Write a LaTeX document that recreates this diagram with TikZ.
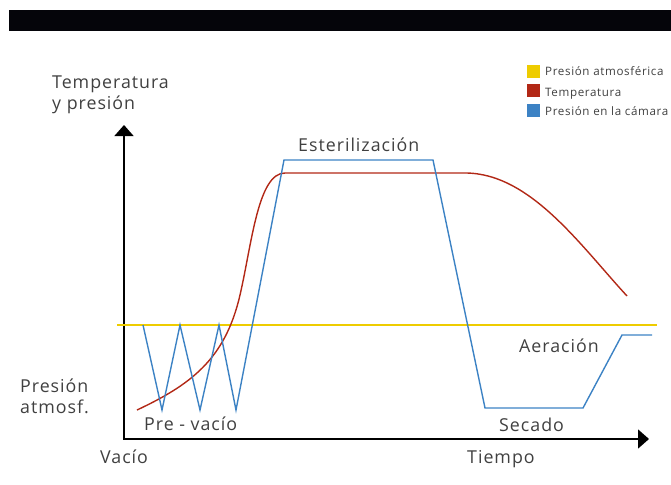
\documentclass[tikz,border=0pt]{standalone}
\usepackage{fontspec}
\setmainfont{Open Sans}[LetterSpace=5.5]
\usetikzlibrary{arrows.meta}

\definecolor{atmyellow}{RGB}{238,204,0}
\definecolor{tempred}{RGB}{178,40,22}
\definecolor{chamberblue}{RGB}{60,130,196}
\definecolor{labelgray}{RGB}{64,64,64}
\definecolor{barblack}{RGB}{5,5,10}

\tikzset{
  lbl/.style={text=labelgray, font=\fontsize{17.8}{20}\selectfont, inner sep=0pt, anchor=base west},
  leglbl/.style={text=labelgray, font=\fontsize{11.6}{13}\selectfont, inner sep=0pt, anchor=base west},
  legbox/.style={minimum size=13pt, inner sep=0pt, anchor=north west},
  curve/.style={line width=1.4pt},
}

\begin{document}
\begin{tikzpicture}[x=1pt,y=-1pt]
        \useasboundingbox (0,0) rectangle (671,484);

        % Header bar
        \fill[barblack] (9,10) rectangle (671,31);

        % Axes
        \coordinate (ytip) at (124,125);
        \coordinate (origin) at (124,439);
        \coordinate (xtip) at (649,439);
        \draw[line width=1.5pt, {Triangle[width=19pt,length=11pt]}-{Triangle[width=19pt,length=11pt]}] (ytip) -- (origin) -- (xtip);

        % Atmospheric pressure line
        \draw[atmyellow, line width=2pt] (117,325) -- (657,325);

        % Temperature curve
        \draw[tempred, curve] (137,410) .. controls (190,385) and (225,360) .. (240,295)
            .. controls (252,243) and (258,173) .. (285,173) -- (465,173)
            .. controls (530,173) and (580,245) .. (627,296);

        % Chamber pressure
        \draw[chamberblue, curve, line join=miter] (143,325) -- (162,410) -- (180,325) -- (200,410)
            -- (219,325) -- (236,410) -- (284,160) -- (433,160) -- (485,408)
            -- (583,408) -- (622,335) -- (652,335);

        % Axis labels
        \node[lbl] (ylabel) at (52,89) {Temperatura};
        \node[lbl] (ylabelb) at (52,110) {y presión};
        \node[lbl] (atm) at (20,392) {Presión};
        \node[lbl] (atmb) at (20,413) {atmosf.};
        \node[lbl] (vacio) at (100,463) {Vacío};
        \node[lbl] (tiempo) at (467,463) {Tiempo};

        % Phase labels
        \node[lbl] (prevacio) at (144,430) {Pre - vacío};
        \node[lbl] (esteril) at (298,151) {Esterilización};
        \node[lbl] (aeracion) at (519,352) {Aeración};
        \node[lbl] (secado) at (499,431) {Secado};

        % Legend
        \node[legbox, fill=atmyellow] (legatm) at (527,65) {};
        \node[legbox, fill=tempred] (legtemp) at (527,84) {};
        \node[legbox, fill=chamberblue] (legcham) at (527,104) {};
        \node[leglbl] (legatmtxt) at (545,76) {Presión atmosférica};
        \node[leglbl] (legtemptxt) at (545,96) {Temperatura};
        \node[leglbl] (legchamtxt) at (545,115) {Presión en la cámara};
\end{tikzpicture}
\end{document}
